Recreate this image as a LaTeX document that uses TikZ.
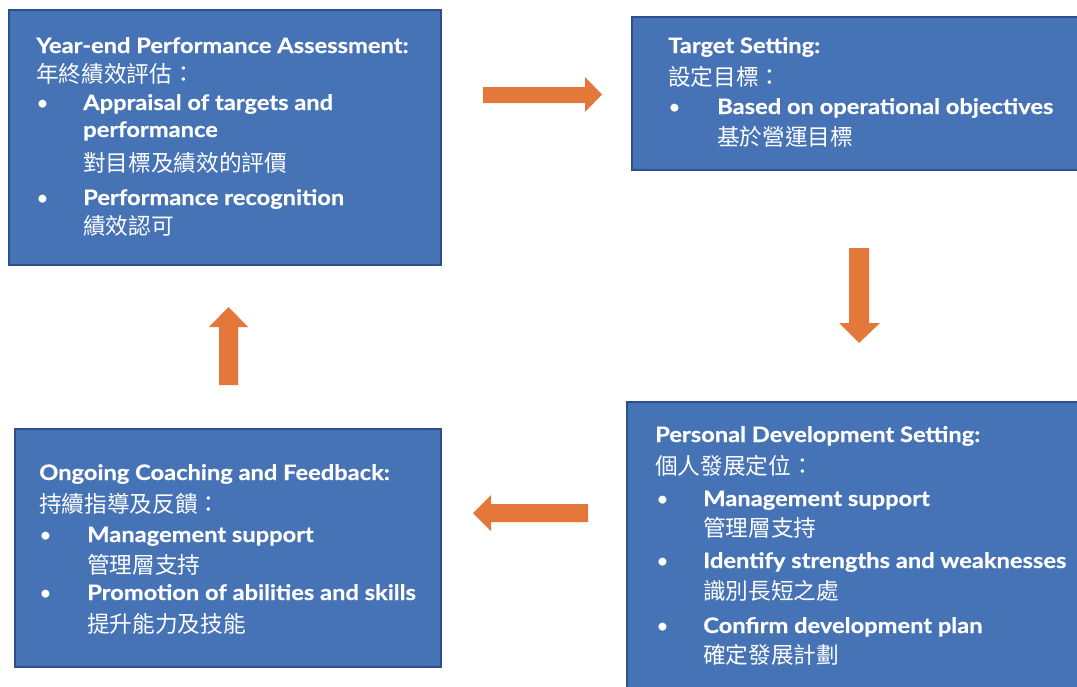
\documentclass[tikz,border=0pt]{standalone}
\usepackage{fontspec}
\setmainfont{Lato}[BoldFeatures={FakeStretch=1.11,FakeBold=0.5}]
\newfontfamily\cjk{Noto Sans CJK TC}
\usetikzlibrary{positioning}
\definecolor{boxfill}{HTML}{4672B6}
\definecolor{boxline}{HTML}{2F4F8C}
\definecolor{orange}{HTML}{E4773A}

\begin{document}
\begin{tikzpicture}[x=0.75pt,y=-0.75pt,
  stage/.style={draw=boxline,fill=boxfill,line width=1.6pt},
  en/.style={anchor=base west,inner sep=0,text=white,font=\bfseries\fontsize{16}{19}\selectfont},
  zh/.style={anchor=base west,inner sep=0,text=white,font=\cjk\fontsize{17}{20}\selectfont},
  blt/.style={anchor=base west,inner sep=0,text=white,font=\fontsize{16}{19}\selectfont}]
\clip (0,0) rectangle (1077,686);

% the four stages
\draw[stage] (9,10) rectangle (441,265);
\draw[stage] (632,17) rectangle (1090,170);
\draw[stage] (627,402) rectangle (1090,700);
\draw[stage] (15,429) rectangle (441,667);

% arrows between stages
\fill[orange] (483,87)--(585,87)--(585,77)--(602,94.5)--(585,112)--(585,103)--(483,103)--cycle;
\fill[orange] (849,248)--(869,248)--(869,323)--(880,323)--(859,343)--(839,323)--(849,323)--cycle;
\fill[orange] (588,504)--(491,504)--(491,495)--(473,513)--(491,531)--(491,522)--(588,522)--cycle;
\fill[orange] (219,385)--(219,327)--(209,327)--(228.5,307)--(248,327)--(238,327)--(238,385)--cycle;

% year-end assessment
\node[en] (ye-t) at (36,53) {Year-end Performance Assessment:};
\node[zh] (ye-z) at (36,82) {年終績效評估：};
\node[blt] (ye-b1) at (36,110) {•};
\node[en] (ye-1) at (83,110) {Appraisal of targets and};
\node[en] (ye-1b) at (83,137) {performance};
\node[zh] (ye-1z) at (83,171) {對目標及績效的評價};
\node[blt] (ye-b2) at (36,205) {•};
\node[en] (ye-2) at (83,205) {Performance recognition};
\node[zh] (ye-2z) at (83,234) {績效認可};

% target setting
\node[en] (ts-t) at (668,53) {Target Setting:};
\node[zh] (ts-z) at (668,85) {設定目標：};
\node[blt] (ts-b1) at (668,114) {•};
\node[en] (ts-1) at (717,114) {Based on operational objectives};
\node[zh] (ts-1z) at (717,145) {基於營運目標};

% personal development
\node[en] (pd-t) at (655,442) {Personal Development Setting:};
\node[zh] (pd-z) at (655,474) {個人發展定位：};
\node[blt] (pd-b1) at (656,506) {•};
\node[en] (pd-1) at (703,506) {Management support};
\node[zh] (pd-1z) at (703,536) {管理層支持};
\node[blt] (pd-b2) at (656,568) {•};
\node[en] (pd-2) at (703,568) {Identify strengths and weaknesses};
\node[zh] (pd-2z) at (703,599) {識別長短之處};
\node[blt] (pd-b3) at (656,633) {•};
\node[en] (pd-3) at (703,633) {Confirm development plan};
\node[zh] (pd-3z) at (703,663) {確定發展計劃};

% coaching and feedback
\node[en] (cf-t) at (39,480) {Ongoing Coaching and Feedback:};
\node[zh] (cf-z) at (39,512) {持續指導及反饋：};
\node[blt] (cf-b1) at (39,542) {•};
\node[en] (cf-1) at (87,542) {Management support};
\node[zh] (cf-1z) at (87,573) {管理層支持};
\node[blt] (cf-b2) at (39,600) {•};
\node[en] (cf-2) at (87,600) {Promotion of abilities and skills};
\node[zh] (cf-2z) at (87,632) {提升能力及技能};
\end{tikzpicture}
\end{document}
